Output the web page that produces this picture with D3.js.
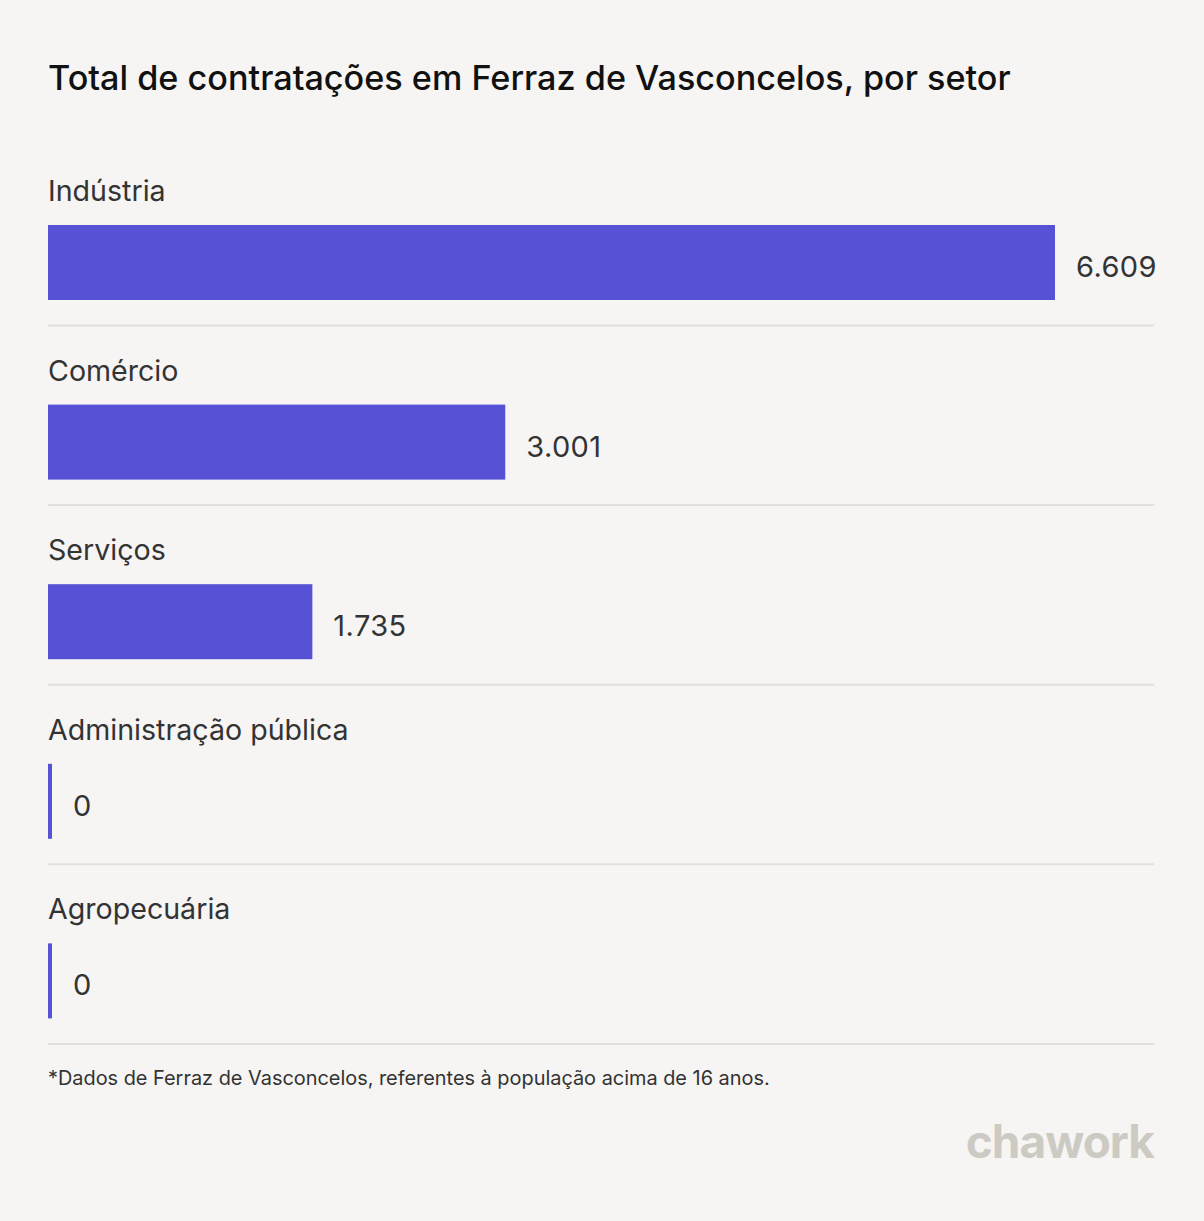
<!DOCTYPE html>
<html><head><meta charset="utf-8">
<script src="https://cdn.jsdelivr.net/npm/d3@7"></script>
<style>
html,body{margin:0;padding:0;background:#f6f5f3;}
svg{display:block;font-family:Inter,"Noto Sans",sans-serif;}
</style></head><body>
<svg id="c" width="1204" height="1221"></svg>
<script>
const categories = ["Indústria","Comércio","Serviços","Administração pública","Agropecuária"];
const values = [6609, 3001, 1735, 0, 0];
const title = "Total de contratações em Ferraz de Vasconcelos, por setor";
const footnote = "*Dados de Ferraz de Vasconcelos, referentes à população acima de 16 anos.";

const svg = d3.select("#c");
svg.append("rect").attr("width",1204).attr("height",1221).attr("fill","#f6f5f3");

const left = 48, right = 1154;
const x = d3.scaleLinear().domain([0, d3.max(values)]).range([left, 1055]);
const y = d3.scaleBand().domain(categories).range([146, 146 + 179.6*categories.length]).paddingInner(0).paddingOuter(0);
const fmt = v => d3.format(",")(v).replace(/,/g, ".");

svg.append("text").attr("x", left).attr("y", 90).attr("font-size", 34.2).attr("font-weight", 500)
  .attr("fill", "#111").text(title);

const g = svg.selectAll("g.row").data(categories).join("g").attr("class","row")
  .attr("transform", d => `translate(0,${y(d)})`);

g.append("text").attr("x", left).attr("y", 55).attr("font-size", 28.6).attr("fill", "#333")
  .text(d => d);

g.append("rect").attr("x", left).attr("y", 79).attr("height", 75)
  .attr("width", (d,i) => Math.max(4, x(values[i]) - left)).attr("fill", "#5751d5");

g.append("text").attr("x", (d,i) => Math.max(left+4, x(values[i])) + 21).attr("y", 131)
  .attr("font-size", 29).attr("letter-spacing", 0.4).attr("fill", "#333").text((d,i) => fmt(values[i]));

g.append("line").attr("x1", left).attr("x2", right).attr("y1", 179.5).attr("y2", 179.5)
  .attr("stroke", "#e2e0dd").attr("stroke-width", 2);

svg.append("text").attr("x", left).attr("y", 1085).attr("font-size", 19.9).attr("fill", "#333").text(footnote);

svg.append("text").attr("x", right).attr("y", 1158).attr("text-anchor","end").attr("font-size", 46)
  .attr("font-weight", 700).attr("fill", "#cdcac4").attr("letter-spacing", -1).text("chawork");
</script>
</body></html>
